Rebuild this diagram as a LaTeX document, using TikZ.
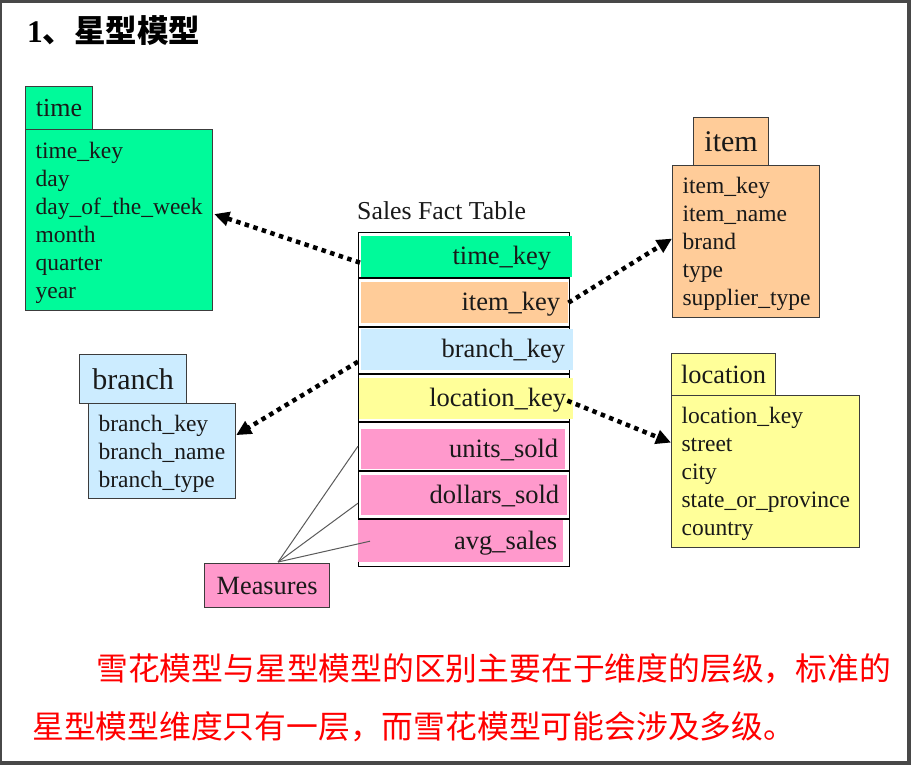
\documentclass[tikz,border=0pt]{standalone}
\usepackage{fontspec}
\setmainfont{Liberation Serif}
\newfontfamily\cjk{Noto Sans CJK SC}
\usetikzlibrary{arrows.meta,calc}
\definecolor{frameGray}{RGB}{72,72,72}
\definecolor{boxLine}{RGB}{60,60,60}
\definecolor{measGray}{RGB}{90,90,90}
\definecolor{txtDark}{RGB}{25,25,25}
\definecolor{cGreen}{RGB}{0,250,154}
\definecolor{cPeach}{RGB}{255,204,153}
\definecolor{cBlue}{RGB}{204,236,255}
\definecolor{cYellow}{RGB}{255,255,153}
\definecolor{cPink}{RGB}{255,153,204}
\tikzset{
  box/.style={draw=boxLine, line width=1.2pt, anchor=north west, inner sep=0pt, text=txtDark},
  hdr/.style={box, align=center},
  body/.style={box, align=left, inner xsep=10pt, text height=21pt, font=\fontsize{23.5}{28}\selectfont},
  rowfill/.style={anchor=north west, align=right, inner ysep=0pt, text height=21.5pt, text depth=5.75pt, text=txtDark, font=\fontsize{26.5}{30}\selectfont},
  factline/.style={draw=black, line width=1.2pt},
  fkarrow/.style={line width=4.5pt, dash pattern=on 4.5pt off 4.5pt, -{Triangle[length=15pt,width=14pt]}},
  measline/.style={draw=measGray, line width=1pt},
  cjktext/.style={anchor=west, inner sep=0pt, text=red, font=\cjk\fontsize{31.8}{36}\selectfont},
}
\begin{document}
\begin{tikzpicture}[x=1pt,y=-1pt]
\useasboundingbox (0,0) rectangle (911,765);
\fill[frameGray] (0,0) rectangle (911,765);
\fill[white] (2,3) rectangle (907,761);

% title
\node[anchor=west, inner sep=0pt] (title) at (27,31)
  {\fontsize{31.5}{36}\selectfont\bfseries 1{\cjk\bfseries 、星型模型}};

% fact table
\node[anchor=west, inner sep=0pt, text=txtDark, font=\fontsize{25.8}{30}\selectfont] (sft) at (357,211) {Sales Fact Table};
\node[draw=black, line width=1.2pt, anchor=north west, minimum width=211pt, minimum height=334pt, inner sep=0pt] (fact) at (358,232) {};
\draw[factline] (358,278) -- (569,278);
\draw[factline] (358,327) -- (569,327);
\draw[factline] (358,374) -- (569,374);
\draw[factline] (358,422) -- (569,422);
\draw[factline] (358,471) -- (569,471);
\draw[factline] (358,519) -- (569,519);

\node[rowfill, fill=cGreen,  text width=169pt, inner xsep=21pt, minimum height=41pt] (ft1) at (361,236) {time\_key};
\node[rowfill, fill=cPeach,  text width=191pt, inner xsep=8pt,  minimum height=41pt] (ft2) at (361,282) {item\_key};
\node[rowfill, fill=cBlue,   text width=196pt, inner xsep=8pt,  minimum height=41pt] (ft3) at (361,329) {branch\_key};
\node[rowfill, fill=cYellow, text width=200pt, inner xsep=7pt,  minimum height=41pt] (ft4) at (359,378) {location\_key};
\node[rowfill, fill=cPink,   text width=190pt, inner xsep=7pt,  minimum height=40pt] (ft5) at (361,429) {units\_sold};
\node[rowfill, fill=cPink,   text width=190pt, inner xsep=8pt,  minimum height=40pt] (ft6) at (361,475) {dollars\_sold};
\node[rowfill, fill=cPink,   text width=193pt, inner xsep=6pt,  minimum height=42pt] (ft7) at (358,520) {avg\_sales};

% time dimension
\node[hdr, fill=cGreen, minimum width=67pt, minimum height=43pt, font=\fontsize{26}{30}\selectfont] (thdr) at (25,86) {time};
\node[body, fill=cGreen, text width=167pt, minimum height=181pt] (tbody) at (25,129)
  {time\_key\\day\\day\_of\_the\_week\\month\\quarter\\year};

% item dimension
\node[hdr, fill=cPeach, minimum width=75pt, minimum height=48pt, font=\fontsize{30}{34}\selectfont] (ihdr) at (693,117) {item};
\node[body, fill=cPeach, text width=127pt, minimum height=152pt] (ibody) at (672,165)
  {item\_key\\item\_name\\brand\\type\\supplier\_type};

% location dimension
\node[hdr, fill=cYellow, minimum width=104pt, minimum height=42pt, font=\fontsize{26.4}{30}\selectfont] (lhdr) at (671,353) {location};
\node[body, fill=cYellow, text width=168pt, minimum height=152pt] (lbody) at (671,395)
  {location\_key\\street\\city\\state\_or\_province\\country};

% branch dimension
\node[hdr, fill=cBlue, minimum width=107pt, minimum height=49pt, font=\fontsize{30}{34}\selectfont] (bhdr) at (79,354) {branch};
\node[body, fill=cBlue, text width=127pt, minimum height=95pt] (bbody) at (88,403)
  {branch\_key\\branch\_name\\branch\_type};

% measures
\node[box, fill=cPink, minimum width=125pt, minimum height=44pt, font=\fontsize{26.3}{30}\selectfont] (meas) at (204,563) {Measures};

% foreign key arrows
\draw[fkarrow] ($(ft1.west)+(-1,6)$) -- ($(tbody.east)+(1,-6)$);
\draw[fkarrow] ($(ft2.east)+(0,0)$) -- ($(ibody.west)+(0,-3)$);
\draw[fkarrow] ($(ft3.west)+(-3,12)$) -- ($(bbody.east)+(0,-16)$);
\draw[fkarrow] ($(ft4.east)+(-6,2)$) -- ($(lbody.west)+(0,-29)$);

% measure lines
\coordinate (mp) at ($(meas.north)+(11,-1)$);
\draw[measline] (mp) -- ($(ft5.west)+(-3,-3)$);
\draw[measline] (mp) -- ($(ft6.west)+(-3,8)$);
\draw[measline] (mp) -- ($(ft7.west)+(12,0)$);

% bottom text
\node[cjktext] (txt1) at (96,669) {雪花模型与星型模型的区别主要在于维度的层级，标准的};
\node[cjktext] (txt2) at (32,727) {星型模型维度只有一层，而雪花模型可能会涉及多级。};
\end{tikzpicture}
\end{document}
